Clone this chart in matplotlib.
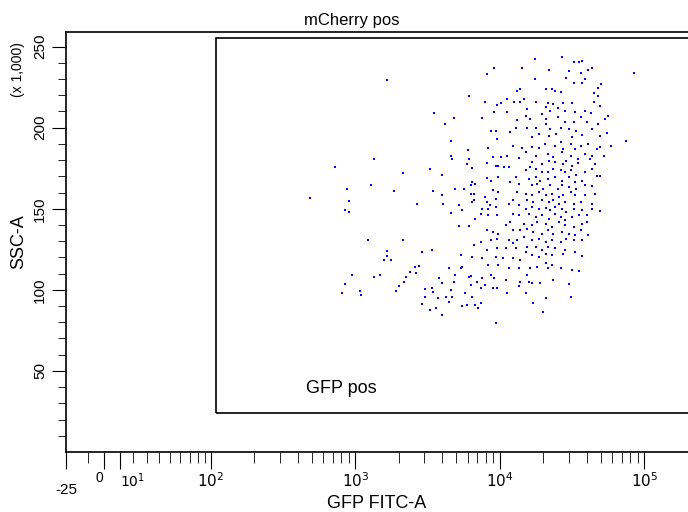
import numpy as np
import matplotlib
matplotlib.use('Agg')
import matplotlib.pyplot as plt
from matplotlib.patches import Rectangle

plt.rcParams['font.family'] = ['Liberation Sans', 'DejaVu Sans']

# events: log10(GFP FITC-A), SSC-A (x 1,000)
gfp_log = [
    2.69, 2.86, 3.22, 3.13, 2.94, 2.96, 2.93, 2.96, 3.11, 3.09, 3.33, 3.27, 3.33,
    3.22, 3.22, 3.20, 3.25, 2.98, 2.93, 2.91, 3.03, 3.04, 3.13, 3.17, 3.28, 3.30,
    3.34, 3.35, 3.38, 3.41, 3.44, 3.42, 3.465, 3.53, 3.43, 3.52, 3.545, 3.62, 3.685,
    3.66, 3.60, 3.61, 3.60, 3.54,
    4.24, 4.43, 4.51, 4.55, 4.57, 4.48, 4.56, 4.61, 4.64, 4.93, 4.15, 3.96, 3.91,
    4.24, 4.34, 4.46, 4.51, 4.57, 4.59, 4.70, 4.68, 4.14, 4.12, 4.32, 4.36, 4.42,
    4.38, 4.65, 4.68, 3.79, 4.17, 4.25, 4.33, 4.37, 4.44, 4.50, 4.65, 3.90, 4.01,
    4.10, 4.14, 3.98, 4.05, 4.69, 4.19, 4.32, 4.35, 4.40, 4.45, 4.52, 4.59, 4.63,
    4.05, 3.96, 3.88, 4.18, 4.21, 4.29, 4.32, 4.40, 4.45, 4.51, 4.56, 4.60, 4.73,
    4.75, 4.12, 4.11, 4.19, 4.25, 4.32, 4.35, 4.42, 4.48, 4.53, 4.68, 4.64, 3.94,
    3.97, 4.07, 4.22, 4.27, 4.34, 4.39, 4.50, 4.57, 4.69, 4.74, 3.98, 4.87, 4.77,
    4.09, 4.15, 4.22, 4.27, 4.31, 4.38, 4.42, 4.44, 4.49, 4.52, 4.56, 4.61, 4.67,
    4.69, 3.92, 3.78, 4.18, 4.25, 4.33, 4.37, 4.43, 4.49, 4.54, 4.59, 4.64, 4.62,
    4.72, 3.95, 4.01, 4.05, 4.13, 3.66, 3.79, 3.67, 4.22, 4.29, 4.34, 4.38, 4.44,
    4.46, 4.50, 4.54, 4.66, 3.91, 3.97, 3.99, 4.03, 4.06, 3.91, 3.77, 3.81, 4.18,
    4.21, 4.25, 4.29, 4.33, 4.37, 4.42, 4.45, 4.49, 4.53, 4.59, 4.64, 3.99, 4.11,
    4.20, 4.25, 4.28, 4.33, 4.38, 4.43, 4.48, 4.52, 4.57, 4.67, 4.69, 3.91, 3.94,
    3.81, 3.83, 3.80, 4.07, 4.13, 4.22, 4.26, 4.30, 4.35, 4.40, 4.43, 4.48, 4.53,
    4.59, 4.64, 3.75, 3.69, 3.95, 3.99, 4.12, 4.18, 4.22, 4.27, 4.32, 4.36, 4.41,
    4.44, 4.49, 4.52, 4.59, 4.66, 3.80, 3.82, 3.90, 3.97, 4.09, 4.19, 4.23, 4.29,
    4.34, 4.37, 4.41, 4.45, 4.51, 4.56, 4.64, 3.81, 3.82, 3.91, 3.93, 4.06, 4.13,
    4.18, 4.22, 4.27, 4.32, 4.35, 4.38, 4.43, 4.46, 4.51, 4.57, 4.64, 3.74, 3.72,
    3.88, 3.92, 3.97, 4.09, 4.13, 4.20, 4.25, 4.29, 4.34, 4.38, 4.42, 4.45, 4.50,
    4.55, 4.60, 4.69, 3.87, 3.66, 3.92, 3.98, 4.07, 4.17, 4.22, 4.26, 4.32, 4.36,
    4.41, 4.45, 4.51, 4.57, 4.60, 3.83, 3.72, 3.79, 4.04, 4.09, 4.14, 4.19, 4.23,
    4.29, 4.33, 4.37, 4.43, 4.48, 4.52, 4.56, 4.61, 3.91, 3.95, 3.99, 4.17, 4.22,
    4.27, 4.32, 4.36, 4.42, 4.46, 4.51, 4.57, 3.94, 3.98, 4.06, 4.09, 4.12, 4.19,
    4.25, 4.29, 4.33, 4.38, 4.45, 4.52, 3.82, 3.87, 3.91, 3.98, 4.04, 4.11, 4.18,
    4.22, 4.27, 4.32, 4.36, 4.44, 4.57, 3.81, 3.88, 3.97, 4.02, 4.09, 4.14, 3.73,
    4.32, 4.36, 4.33, 4.42, 4.13, 4.21, 4.26, 3.92, 3.99, 4.06, 3.74, 3.80,
    3.48, 3.48, 3.46, 3.52, 3.56, 3.60, 3.53, 3.54, 3.57, 3.58, 3.60, 3.63, 3.65,
    3.66, 3.67, 3.68, 3.65, 3.69, 3.73, 3.74, 3.76, 3.77, 3.79, 3.80, 3.81, 3.83,
    3.84, 3.85, 3.87, 3.87, 3.88, 3.90, 3.94, 3.95, 3.96, 3.97, 3.98, 4.04, 4.05,
    4.14, 4.13, 4.18, 4.19, 4.20, 4.22, 4.23, 4.28, 4.30, 4.32, 4.37, 4.48, 4.49,
    4.50, 4.55,
]
ssc = [
    156.6, 176, 229.6, 180.7, 162, 155, 149, 148, 164.6, 131, 172, 161, 131,
    124, 121, 118.6, 118.6, 109, 103.6, 97.9, 99, 96.9, 108, 109, 99, 102.6,
    105, 108, 111, 114, 115, 110.6, 123.5, 124.3, 152.9, 174.6, 209, 202, 205.7,
    192, 171, 152.9, 158.6, 160.7,
    242.5, 243.7, 240.4, 240.4, 241, 234.9, 233.5, 235.5, 236.5, 233.5, 236.5, 236.5, 233.3,
    229.8, 235.5, 230.8, 227.8, 227.8, 229.8, 226.7, 224.7, 223.7, 222.6, 223.7, 223.7, 222.2,
    222.6, 221.6, 219.6, 219.6, 217.5, 216.1, 215.5, 214.5, 215.5, 215, 216.1, 216.1, 215.5,
    216.1, 216.1, 213.8, 217.5, 213.4, 211.4, 213, 210.4, 212.4, 210.4, 209.8, 210.4, 209,
    209.4, 209.4, 205.7, 206.9, 205.3, 208.3, 205.3, 206.3, 203.2, 203.2, 206.3, 203.2, 205.3,
    206.9, 204.6, 199.7, 200.1, 199.5, 202.2, 199.1, 200.1, 199.1, 198.1, 202.2, 199.1, 197.7,
    197.7, 197.5, 194, 196, 194.6, 196, 194, 195.4, 195, 196.7, 193, 192, 188.5,
    188.5, 187.3, 187.9, 187.3, 189.9, 188.9, 191.3, 186.9, 189.9, 186.9, 188.9, 189.9, 186.9,
    187.9, 187.3, 186.2, 184.8, 182.8, 183.8, 181.7, 184.8, 182.8, 180.7, 183.8, 182.8, 180.7,
    182.8, 181.7, 181.7, 182.4, 181.1, 182.8, 180.7, 180.7, 178.7, 177.7, 179.7, 178.7, 177.7,
    179.7, 176.6, 178.3, 177.7, 178.1, 176.6, 176.2, 175.6, 175.6, 178.3, 177.7, 175.2, 173.6,
    175.6, 174.6, 172.9, 172.5, 174.6, 173.6, 172.5, 173.6, 170.9, 172.5, 174.6, 169.5, 169.5,
    168.5, 169.5, 167.4, 168.5, 169.5, 167.4, 169.5, 166.4, 167.4, 170.1, 170.1, 168.9, 167.4,
    166.4, 165.4, 164.4, 166.8, 165.4, 164.4, 165.4, 162.3, 164.4, 162.3, 164.4, 163.3, 162.3,
    164.4, 164, 162.3, 162.3, 161.3, 160.3, 160.3, 159.2, 158.2, 160.3, 158.2, 159.2, 157.2,
    158.2, 160.3, 158.2, 158.2, 159.2, 158.8, 158.8, 157.2, 156.2, 155.1, 155.1, 154.1, 155.1,
    154.1, 155.1, 153.1, 154.1, 153.1, 154.1, 153.1, 154.1, 155.1, 154.1, 152.1, 153.1, 152.1,
    150, 151, 150, 150.4, 149, 151, 150, 148, 150, 149, 150, 149.4, 152.1,
    150, 150, 151, 147, 146, 147, 145, 146, 143.9, 147, 145, 142.9, 145,
    146, 146, 148.6, 146.6, 147.4, 146.4, 146.4, 141.9, 140.8, 139.8, 141.9, 140.8, 138.8,
    141.9, 139.8, 138.8, 140.8, 141.9, 143.9, 139.2, 139.2, 139.8, 136.7, 136.7, 137.8, 135.7,
    134.7, 136.7, 134.7, 135.7, 134.7, 133.7, 136.7, 133.7, 136.7, 135.7, 134.7, 132.7, 130.6,
    131.6, 129.6, 130.6, 129.6, 131.6, 130.6, 130.6, 130.6, 131.6, 130.6, 128.6, 130.6, 126.5,
    126.5, 124.5, 126.5, 125.5, 124.5, 123.5, 127.5, 129.6, 124.5, 125.5, 125.5, 125.5, 123.5,
    121.4, 120.4, 122.4, 121.4, 122.4, 121, 120.4, 119.4, 120.4, 119.4, 119.4, 118.3, 121.4,
    116.3, 115.3, 113.2, 113.2, 113.2, 113.2, 114.3, 115.3, 115.3, 113.2, 114.3, 108.5,
    100.6, 95.8, 91.2, 87.7, 88.7, 84.2, 101.4, 98.9, 94.8, 107, 104, 95.8, 92.4,
    100, 95.8, 105, 113.2, 109.1, 113.2, 90.1, 97.9, 90.7, 108.1, 103, 95.8, 90.7,
    105, 88.7, 101, 91.8, 107, 103, 109.1, 101, 107, 79.5, 101, 106, 97.9,
    105, 102.6, 97.9, 109.1, 105, 104, 91.8, 104, 86.6, 94.8, 106, 103.6, 95.8,
    112.2, 111.6,
]

# tick labels of the GFP axis (positions in decade units of the display scale)
major_pos = [1.0, 1.26, 1.37, 2, 3, 4, 5]
major_lab = ['-25', '0', '$10^1$', '$10^2$', '$10^3$', '$10^4$', '$10^5$']
low_minor = [1.15, 1.46, 1.56, 1.64, 1.72, 1.79, 1.86, 1.91, 1.96]

fig = plt.figure(figsize=(6.88, 5.12), dpi=100)
ax = fig.add_axes([66/688, 60/512, 1 - 66/688, 420/512])

ax.scatter(gfp_log, ssc, s=3.5, marker='s', color='#0000ff', linewidths=0)

ax.set_xlim(1.0, 5.29)
ax.set_ylim(0, 259)
ax.spines['right'].set_visible(False)
for s in ax.spines.values():
    s.set_linewidth(1.2)

minor = list(low_minor)
for d in [2, 3, 4]:
    minor += [d + np.log10(k) for k in range(2, 10)]
minor += [5 + np.log10(2)]
ax.set_xticks(major_pos)
ax.set_xticklabels(major_lab, fontsize=11)
ax.set_xticks(minor, minor=True)
ax.tick_params(axis='x', which='major', length=12, direction='out', pad=2)
ax.tick_params(axis='x', which='minor', length=8, direction='out')
xlbls = ax.get_xticklabels()
xlbls[0].set_y(-12 / 420)
xlbls[1].set_ha('right')
xlbls[1].set_fontsize(10)
xlbls[2].set_ha('left')
xlbls[2].set_fontsize(10)

ax.set_yticks([50, 100, 150, 200, 250])
ax.set_yticklabels(['50', '100', '150', '200', '250'], rotation=90, va='center', fontsize=11)
ax.set_yticks(np.arange(10, 259, 10), minor=True)
ax.tick_params(axis='y', which='major', length=10)
ax.tick_params(axis='y', which='minor', length=6)

ax.set_xlabel('GFP FITC-A', fontsize=13, labelpad=-2)
ax.set_ylabel('SSC-A', fontsize=13)
fig.text(18/688, 1 - 70/512, '(x 1,000)', rotation=90, ha='center', va='center', fontsize=10)
fig.text(352/688, 1 - 20/512, 'mCherry pos', ha='center', va='center', fontsize=12)

ax.add_patch(Rectangle((2.04, 24), 4, 231, fill=False, lw=1.2, ec='black', clip_on=True))
ax.text(2.66, 39, 'GFP pos', fontsize=13, va='center')

fig.savefig('out.png', dpi=100)
